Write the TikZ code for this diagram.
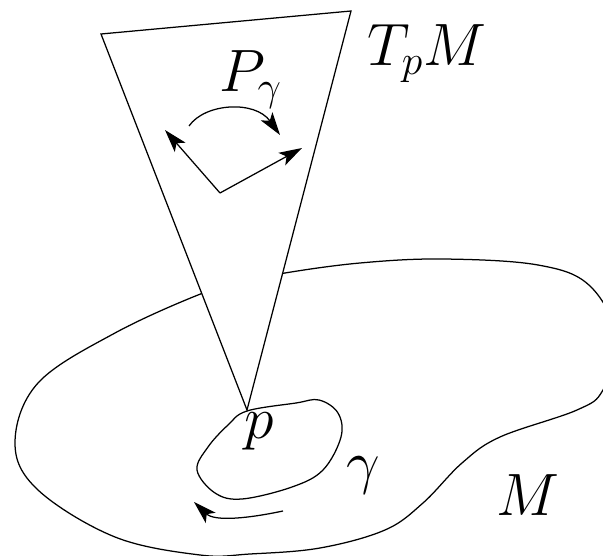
\documentclass[tikz,border=0pt]{standalone}
\usetikzlibrary{arrows.meta}
\DeclareMathSizes{24.88}{24.88}{17.28}{14.4}
\begin{document}
\begin{tikzpicture}[x=0.4785pt,y=-0.4785pt, line width=0.6pt,
  lbl/.style={inner sep=0pt, scale=1.15, font=\fontsize{24.88}{30}\selectfont},
  tip/.style={-{Stealth[length=11pt,width=6.8pt,inset=2.6pt]}}]
\useasboundingbox (0,0) rectangle (603,556);
\clip (0,0) rectangle (603,556);
% manifold M
\draw plot[smooth cycle, tension=0.6] coordinates {(203,293) (245,282) (285,273) (360,263) (442,259) (538,265) (590,286) (618,340) (603,390) (577,410) (500,437) (462,463) (423,503) (385,530) (320,548) (250,554) (200,555) (115,537) (38,490) (15,443) (38,383) (115,333)};
% tangent plane
\coordinate (A) at (101,34);
\coordinate (B) at (351,11);
\coordinate (P) at (247,410);
\filldraw[fill=white] (A) -- (B) -- (P) -- cycle;
% loop gamma
\draw plot[smooth cycle, tension=0.6] coordinates {(247,411) (296,403) (319,400) (338,413) (341,437) (323,470) (292,487) (242,499) (215,493) (197,470) (208,447) (228,425)};
% vectors
\coordinate (V) at (220,193);
\coordinate (L) at (165,130);
\coordinate (R) at (302,148);
\draw[tip] (V) -- (L);
\draw[tip] (V) -- (R);
\coordinate (c1) at (189,126);
\coordinate (c2) at (280,135);
\draw[tip] (c1) .. controls (205,103) and (255,100) .. (c2);
% transport arrow along gamma
\coordinate (g1) at (283,511);
\coordinate (g2) at (194,502);
\draw[tip] (g1) .. controls (250,518) and (215,522) .. (g2);
% labels
\node[lbl] (Pg) at (251,80) {$P_\gamma$};
\node[lbl] (TpM) at (427,54) {$T_pM$};
\node[lbl] (p) at (259,431) {$p$};
\node[lbl] (gam) at (363,475) {$\gamma$};
\node[lbl] (M) at (528,495) {$M$};
\end{tikzpicture}
\end{document}
